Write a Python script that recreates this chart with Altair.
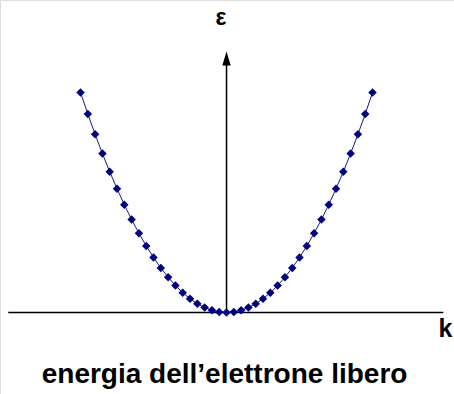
import altair as alt
import pandas as pd

# Wave vector samples and free-electron energy (arbitrary units)
k_vals = [-2.0, -1.9, -1.8, -1.7, -1.6, -1.5, -1.4, -1.3, -1.2, -1.1, -1.0,
          -0.9, -0.8, -0.7, -0.6, -0.5, -0.4, -0.3, -0.2, -0.1, 0.0,
          0.1, 0.2, 0.3, 0.4, 0.5, 0.6, 0.7, 0.8, 0.9, 1.0,
          1.1, 1.2, 1.3, 1.4, 1.5, 1.6, 1.7, 1.8, 1.9, 2.0]
eps_vals = [4.00, 3.61, 3.24, 2.89, 2.56, 2.25, 1.96, 1.69, 1.44, 1.21, 1.00,
            0.81, 0.64, 0.49, 0.36, 0.25, 0.16, 0.09, 0.04, 0.01, 0.00,
            0.01, 0.04, 0.09, 0.16, 0.25, 0.36, 0.49, 0.64, 0.81, 1.00,
            1.21, 1.44, 1.69, 1.96, 2.25, 2.56, 2.89, 3.24, 3.61, 4.00]

# Axis geometry in data units
h_axis = {"k": -2.99, "k2": 2.97, "e": 0.0}
v_axis = {"k": 0.0, "e": 0.0, "e2": 4.55}
arrow_tip = {"k": 0.0, "e": 4.62}

# Axis names (k, energy, font size)
labels = [
    {"k": -0.075, "e": 5.23, "t": "ε", "s": 23},
    {"k": 3.0, "e": -0.445, "t": "k", "s": 25},
]
caption = "energia dell\u2019elettrone libero"

df = pd.DataFrame({"k": k_vals, "e": eps_vals})

X = alt.Scale(domain=[-3.103, 3.116], nice=False, zero=False)
Y = alt.Scale(domain=[-1.482, 5.682], nice=False, zero=False)


def xe(field="k"):
    return alt.X(f"{field}:Q", scale=X, axis=None)


def ye(field="e"):
    return alt.Y(f"{field}:Q", scale=Y, axis=None)


hline = alt.Chart(pd.DataFrame([h_axis])).mark_rule(color="black", strokeWidth=1.5).encode(
    x=xe(), x2="k2:Q", y=ye())
vline = alt.Chart(pd.DataFrame([v_axis])).mark_rule(color="black", strokeWidth=1.5).encode(
    x=xe(), y=ye(), y2="e2:Q")
arrow = alt.Chart(pd.DataFrame([arrow_tip])).mark_point(
    shape="M0,-1L0.6,1L-0.6,1Z", filled=True, color="black", opacity=1, size=196
).encode(x=xe(), y=ye())

curve = alt.Chart(df).mark_line(color="#1a1a80", strokeWidth=1).encode(x=xe(), y=ye())
dots = alt.Chart(df).mark_point(shape="diamond", filled=True, color="#000080",
                                opacity=1, size=72).encode(x=xe(), y=ye())

lab = alt.Chart(pd.DataFrame(labels)).mark_text(
    font="Liberation Sans", fontWeight="bold", color="black",
    align="center", baseline="alphabetic"
).encode(x=xe(), y=ye(), text="t:N", size=alt.Size("s:Q", scale=None, legend=None))

cap = alt.Chart(pd.DataFrame({"k": [-0.027], "e": [-1.282], "t": [caption]})).mark_text(
    font="Liberation Sans", fontWeight="bold", fontSize=28, color="black",
    align="center", baseline="alphabetic"
).encode(x=xe(), y=ye(), text="t:N")

chart = alt.layer(hline, vline, arrow, curve, dots, lab, cap).properties(
    width=454, height=394, autosize=alt.AutoSizeParams(type="none"), padding=0
).configure_view(stroke=None).configure(background="white")

chart.save("out.html", embed_options={"renderer": "svg", "actions": False})
